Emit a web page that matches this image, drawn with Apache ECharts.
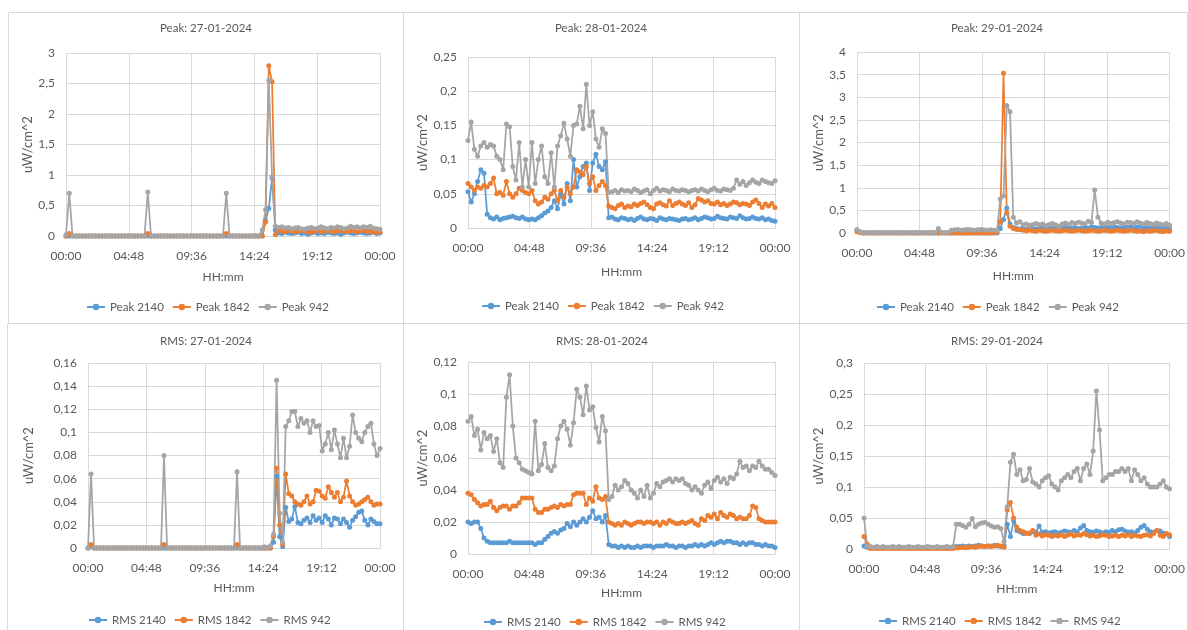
<!DOCTYPE html>
<html><head><meta charset="utf-8">
<script src="https://cdn.jsdelivr.net/npm/echarts@6/dist/echarts.min.js"></script>
<style>html,body{margin:0;padding:0;background:#fff}#c{width:1188px;height:630px}</style>
</head><body><div id="c"></div><script>
// time of day in minutes (x values)
const times = [
0,15,30,45,60,75,90,105,120,135,
150,165,180,195,210,225,240,255,270,285,
300,315,330,345,360,375,390,405,420,435,
450,465,480,495,510,525,540,555,570,585,
600,615,630,645,660,675,690,705,720,735,
750,765,780,795,810,825,840,855,870,885,
900,915,930,945,960,975,990,1005,1020,1035,
1050,1065,1080,1095,1110,1125,1140,1155,1170,1185,
1200,1215,1230,1245,1260,1275,1290,1305,1320,1335,
1350,1365,1380,1395,1410,1425,1440];

const xTickLabels = ['00:00','04:48','09:36','14:24','19:12','00:00'];

// ---- Peak 27-01-2024
const peak27_2140 = [
0,0,0,0,0,0,0,0,0,0,
0,0,0,0,0,0,0,0,0,0,
0,0,0,0,0,0,0,0,0,0,
0,0,0,0,0,0,0,0,0,0,
0,0,0,0,0,0,0,0,0,0,
0,0,0,0,0,0,0,0,0,0,
0,0.25,0.45,0.95,0.1,0.05,0.04,0.06,0.05,0.04,
0.05,0.06,0.04,0.05,0.03,0.05,0.06,0.04,0.05,0.04,
0.06,0.05,0.04,0.05,0.03,0.05,0.06,0.05,0.04,0.05,
0.06,0.05,0.04,0.05,0.06,0.04,0.05];
const peak27_1842 = [
0,0.04,0,0,0,0,0,0,0,0,
0,0,0,0,0,0,0,0,0,0,
0,0,0,0,0,0.04,0,0,0,0,
0,0,0,0,0,0,0,0,0,0,
0,0,0,0,0,0,0,0,0,0.04,
0,0,0,0,0,0,0,0,0,0,
0,0.23,2.79,2.53,0.02,0.09,0.08,0.07,0.09,0.08,
0.07,0.08,0.09,0.08,0.07,0.06,0.08,0.09,0.07,0.08,
0.09,0.08,0.07,0.08,0.09,0.08,0.07,0.09,0.08,0.07,
0.08,0.09,0.07,0.08,0.06,0.07,0.06];
const peak27_942 = [
0.02,0.7,0,0,0,0,0,0,0,0,
0,0,0,0,0,0,0,0,0,0,
0,0,0,0,0,0.72,0,0,0,0,
0,0,0,0,0,0,0,0,0,0,
0,0,0,0,0,0,0,0,0,0.7,
0,0,0,0,0,0,0,0,0,0,
0.1,0.43,2.55,0.97,0.16,0.14,0.15,0.13,0.14,0.12,
0.13,0.14,0.12,0.11,0.13,0.14,0.12,0.13,0.15,0.13,
0.12,0.14,0.13,0.15,0.14,0.12,0.13,0.16,0.14,0.15,
0.13,0.15,0.14,0.16,0.13,0.12,0.11];

// ---- Peak 28-01-2024
const peak28_2140 = [
0.053,0.038,0.05,0.068,0.085,0.08,0.02,0.015,0.013,0.016,
0.012,0.014,0.015,0.016,0.017,0.015,0.014,0.016,0.013,0.012,
0.013,0.012,0.015,0.018,0.022,0.025,0.03,0.04,0.028,0.05,
0.035,0.065,0.04,0.1,0.06,0.075,0.09,0.095,0.055,0.095,
0.108,0.09,0.085,0.097,0.015,0.016,0.013,0.012,0.015,0.014,
0.012,0.013,0.011,0.014,0.016,0.013,0.012,0.014,0.013,0.011,
0.015,0.013,0.012,0.014,0.013,0.012,0.011,0.013,0.014,0.012,
0.013,0.015,0.012,0.014,0.016,0.015,0.013,0.014,0.017,0.015,
0.014,0.013,0.016,0.015,0.014,0.018,0.015,0.013,0.014,0.016,
0.014,0.013,0.015,0.012,0.013,0.011,0.01];
const peak28_1842 = [
0.065,0.06,0.055,0.06,0.058,0.062,0.06,0.065,0.073,0.05,
0.052,0.048,0.068,0.05,0.045,0.05,0.058,0.055,0.052,0.05,
0.055,0.04,0.035,0.038,0.045,0.042,0.05,0.055,0.04,0.055,
0.045,0.06,0.05,0.06,0.085,0.082,0.078,0.09,0.065,0.075,
0.055,0.062,0.068,0.062,0.032,0.03,0.028,0.033,0.035,0.03,
0.032,0.031,0.035,0.033,0.036,0.038,0.034,0.03,0.028,0.035,
0.037,0.034,0.032,0.04,0.033,0.036,0.038,0.035,0.033,0.037,
0.03,0.034,0.043,0.041,0.038,0.04,0.036,0.035,0.038,0.034,
0.036,0.033,0.035,0.038,0.037,0.034,0.036,0.035,0.033,0.038,
0.041,0.036,0.03,0.035,0.032,0.036,0.03];
const peak28_942 = [
0.128,0.155,0.115,0.105,0.12,0.125,0.118,0.122,0.12,0.105,
0.1,0.085,0.152,0.148,0.09,0.07,0.125,0.06,0.1,0.06,
0.125,0.065,0.1,0.12,0.075,0.065,0.11,0.06,0.12,0.135,
0.153,0.13,0.105,0.15,0.152,0.178,0.145,0.21,0.15,0.17,
0.13,0.118,0.145,0.138,0.052,0.053,0.055,0.052,0.056,0.054,
0.055,0.053,0.057,0.055,0.052,0.054,0.056,0.05,0.055,0.058,
0.054,0.056,0.055,0.053,0.057,0.055,0.054,0.056,0.055,0.053,
0.055,0.056,0.054,0.057,0.055,0.053,0.056,0.058,0.055,0.054,
0.057,0.056,0.055,0.058,0.07,0.064,0.068,0.062,0.066,0.07,
0.067,0.065,0.07,0.068,0.066,0.065,0.069];

// ---- Peak 29-01-2024
const peak29_2140 = [
0.06,0.01,0,0,0,0,0,0,0,0,
0,0,0,0,0,0,0,0,0,0,
0,0,0,0,0,0,0,0,0,0,
0,0,0,0,0,0,0,0,0,0,
0,0,0,0,0.1,0.3,0.55,0.2,0.12,0.1,
0.09,0.1,0.08,0.11,0.1,0.09,0.1,0.12,0.1,0.11,
0.1,0.12,0.11,0.1,0.12,0.13,0.11,0.12,0.1,0.11,
0.12,0.11,0.13,0.12,0.11,0.12,0.13,0.12,0.11,0.13,
0.12,0.11,0.13,0.12,0.14,0.12,0.13,0.12,0.11,0.12,
0.1,0.11,0.12,0.1,0.11,0.1,0.09];
const peak29_1842 = [
0.03,0.005,0,0,0,0,0,0,0,0,
0,0,0,0,0,0,0,0,0,0,
0,0,0,0,0,0,0,0,0,0,
0,0,0,0,0,0,0,0,0,0,
0,0,0,0.02,0.25,3.53,0.45,0.15,0.1,0.08,
0.07,0.06,0.05,0.06,0.05,0.04,0.06,0.05,0.04,0.05,
0.06,0.05,0.04,0.05,0.06,0.05,0.04,0.05,0.06,0.05,
0.04,0.05,0.06,0.05,0.04,0.05,0.06,0.05,0.04,0.05,
0.06,0.05,0.04,0.05,0.06,0.05,0.04,0.05,0.03,0.05,
0.04,0.05,0.06,0.04,0.03,0.05,0.04];
const peak29_942 = [
0.08,0.03,0.01,0.01,0.01,0.01,0.01,0.01,0.01,0.01,
0.01,0.01,0.01,0.01,0.01,0.01,0.01,0.01,0.01,0.01,
0.01,0.01,0.01,0.01,0.01,0.1,0.01,0.01,0.01,0.06,
0.07,0.08,0.06,0.07,0.08,0.07,0.06,0.07,0.08,0.07,
0.06,0.07,0.06,0.06,0.75,0.82,2.82,2.68,0.35,0.22,
0.25,0.18,0.2,0.17,0.19,0.21,0.18,0.2,0.16,0.19,
0.21,0.18,0.15,0.2,0.22,0.19,0.23,0.21,0.24,0.22,
0.2,0.26,0.23,0.95,0.35,0.22,0.2,0.24,0.21,0.23,
0.25,0.22,0.2,0.24,0.23,0.21,0.25,0.22,0.2,0.23,
0.21,0.19,0.22,0.2,0.18,0.21,0.17];

// ---- RMS 27-01-2024
const rms27_2140 = [
0,0.001,0,0,0,0,0,0,0,0,
0,0,0,0,0,0,0,0,0,0,
0,0,0,0,0,0,0,0,0,0,
0,0,0,0,0,0,0,0,0,0,
0,0,0,0,0,0,0,0,0,0,
0,0,0,0,0,0,0,0,0,0,
0,0.005,0.062,0.01,0.001,0.035,0.023,0.025,0.036,0.022,
0.021,0.024,0.026,0.022,0.028,0.024,0.026,0.022,0.028,0.025,
0.02,0.026,0.025,0.021,0.025,0.022,0.018,0.024,0.027,0.031,
0.032,0.024,0.02,0.025,0.023,0.021,0.021];
const rms27_1842 = [
0,0.003,0,0,0,0,0,0,0,0,
0,0,0,0,0,0,0,0,0,0,
0,0,0,0,0,0.003,0,0,0,0,
0,0,0,0,0,0,0,0,0,0,
0,0,0,0,0,0,0,0,0,0.003,
0,0,0,0,0,0,0,0,0,0,
0,0.01,0.069,0.02,0.003,0.064,0.047,0.045,0.04,0.038,
0.037,0.04,0.045,0.038,0.04,0.05,0.049,0.045,0.043,0.053,
0.048,0.044,0.048,0.04,0.044,0.058,0.045,0.04,0.037,0.038,
0.04,0.042,0.044,0.04,0.037,0.038,0.038];
const rms27_942 = [
0,0.064,0,0,0,0,0,0,0,0,
0,0,0,0,0,0,0,0,0,0,
0,0,0,0,0,0.08,0,0,0,0,
0,0,0,0,0,0,0,0,0,0,
0,0,0,0,0,0,0,0,0,0.066,
0,0,0,0,0,0,0,0,0.001,0,
0.002,0.012,0.145,0.03,0.005,0.105,0.11,0.118,0.118,0.105,
0.112,0.108,0.11,0.1,0.11,0.105,0.106,0.084,0.09,0.1,
0.085,0.102,0.09,0.078,0.095,0.078,0.088,0.115,0.1,0.095,
0.092,0.1,0.105,0.108,0.09,0.08,0.086];

// ---- RMS 28-01-2024
const rms28_2140 = [
0.02,0.019,0.02,0.02,0.016,0.01,0.008,0.007,0.007,0.007,
0.007,0.007,0.007,0.008,0.007,0.007,0.007,0.007,0.007,0.007,
0.007,0.006,0.007,0.007,0.009,0.011,0.013,0.014,0.013,0.015,
0.016,0.019,0.017,0.02,0.018,0.02,0.022,0.02,0.023,0.027,
0.022,0.023,0.02,0.024,0.006,0.005,0.005,0.004,0.005,0.004,
0.005,0.004,0.004,0.005,0.004,0.005,0.005,0.005,0.004,0.005,
0.005,0.005,0.006,0.005,0.005,0.004,0.005,0.005,0.004,0.005,
0.005,0.006,0.005,0.006,0.005,0.006,0.007,0.006,0.007,0.008,
0.007,0.008,0.008,0.007,0.007,0.006,0.007,0.006,0.007,0.007,
0.006,0.006,0.005,0.006,0.005,0.005,0.004];
const rms28_1842 = [
0.038,0.037,0.034,0.032,0.03,0.031,0.031,0.033,0.029,0.027,
0.029,0.03,0.03,0.028,0.03,0.03,0.032,0.035,0.035,0.035,
0.035,0.028,0.026,0.026,0.028,0.028,0.029,0.03,0.029,0.031,
0.03,0.031,0.031,0.037,0.038,0.038,0.038,0.031,0.035,0.033,
0.042,0.035,0.034,0.036,0.02,0.019,0.018,0.019,0.018,0.02,
0.019,0.018,0.019,0.02,0.02,0.019,0.02,0.02,0.019,0.02,
0.018,0.02,0.019,0.021,0.02,0.019,0.019,0.02,0.019,0.02,
0.021,0.019,0.018,0.022,0.021,0.024,0.023,0.025,0.022,0.026,
0.024,0.023,0.025,0.024,0.022,0.023,0.022,0.022,0.024,0.03,
0.029,0.022,0.021,0.02,0.02,0.02,0.02];
const rms28_942 = [
0.083,0.086,0.074,0.078,0.065,0.076,0.072,0.074,0.064,0.072,
0.057,0.054,0.098,0.112,0.08,0.06,0.057,0.053,0.052,0.051,
0.05,0.083,0.052,0.056,0.069,0.054,0.052,0.055,0.072,0.08,
0.083,0.078,0.068,0.082,0.103,0.098,0.087,0.105,0.09,0.092,
0.079,0.07,0.086,0.077,0.034,0.036,0.043,0.04,0.042,0.046,
0.044,0.04,0.038,0.035,0.04,0.036,0.043,0.035,0.038,0.044,
0.042,0.045,0.046,0.047,0.045,0.047,0.046,0.047,0.044,0.043,
0.04,0.042,0.04,0.038,0.043,0.045,0.041,0.046,0.048,0.045,
0.047,0.044,0.048,0.047,0.05,0.058,0.054,0.055,0.052,0.055,
0.054,0.058,0.055,0.053,0.053,0.051,0.049];

// ---- RMS 29-01-2024
const rms29_2140 = [
0.005,0.003,0.002,0.002,0.002,0.002,0.002,0.002,0.002,0.002,
0.002,0.002,0.002,0.002,0.002,0.002,0.002,0.002,0.002,0.002,
0.002,0.002,0.002,0.002,0.002,0.002,0.002,0.002,0.002,0.004,
0.004,0.005,0.004,0.005,0.004,0.005,0.006,0.005,0.004,0.005,
0.005,0.006,0.005,0.004,0.005,0.04,0.02,0.045,0.03,0.028,
0.025,0.026,0.025,0.028,0.027,0.037,0.027,0.028,0.026,0.027,
0.028,0.026,0.027,0.029,0.028,0.027,0.03,0.028,0.034,0.038,
0.03,0.028,0.027,0.029,0.028,0.026,0.028,0.027,0.03,0.028,
0.031,0.032,0.029,0.027,0.028,0.026,0.03,0.035,0.038,0.032,
0.028,0.027,0.03,0.029,0.026,0.024,0.02];
const rms29_1842 = [
0.02,0.008,0.001,0.001,0.001,0.001,0.001,0.001,0.001,0.001,
0.001,0.001,0.001,0.001,0.001,0.001,0.001,0.001,0.001,0.001,
0.001,0.001,0.001,0.001,0.001,0.001,0.001,0.001,0.001,0.002,
0.002,0.003,0.002,0.003,0.004,0.003,0.004,0.005,0.004,0.005,
0.004,0.005,0.006,0.005,0.003,0.063,0.075,0.05,0.035,0.03,
0.028,0.025,0.026,0.03,0.022,0.024,0.021,0.023,0.022,0.02,
0.022,0.021,0.023,0.02,0.022,0.024,0.021,0.023,0.022,0.025,
0.023,0.021,0.022,0.02,0.021,0.023,0.022,0.02,0.021,0.022,
0.02,0.022,0.021,0.023,0.02,0.022,0.021,0.02,0.022,0.023,
0.021,0.025,0.03,0.022,0.02,0.025,0.023];
const rms29_942 = [
0.05,0.005,0.004,0.003,0.004,0.003,0.004,0.003,0.003,0.004,
0.003,0.004,0.003,0.003,0.004,0.003,0.003,0.004,0.003,0.003,
0.004,0.003,0.003,0.004,0.003,0.003,0.004,0.003,0.004,0.04,
0.04,0.038,0.035,0.04,0.049,0.036,0.04,0.042,0.043,0.04,
0.037,0.035,0.036,0.033,0.012,0.068,0.14,0.153,0.12,0.128,
0.11,0.112,0.13,0.108,0.105,0.1,0.11,0.115,0.118,0.105,
0.1,0.095,0.11,0.115,0.12,0.115,0.125,0.13,0.11,0.13,
0.137,0.12,0.158,0.255,0.192,0.11,0.115,0.12,0.12,0.125,
0.125,0.13,0.125,0.13,0.11,0.128,0.12,0.11,0.115,0.105,
0.1,0.1,0.1,0.105,0.11,0.1,0.097];

const panelTitles = ['Peak: 27-01-2024','Peak: 28-01-2024','Peak: 29-01-2024','RMS: 27-01-2024','RMS: 28-01-2024','RMS: 29-01-2024'];
const peakNames = ['Peak 2140','Peak 1842','Peak 942'];
const rmsNames = ['RMS 2140','RMS 1842','RMS 942'];
const panelNames = [peakNames, peakNames, peakNames, rmsNames, rmsNames, rmsNames];
const panelData = [
  [peak27_2140, peak27_1842, peak27_942],
  [peak28_2140, peak28_1842, peak28_942],
  [peak29_2140, peak29_1842, peak29_942],
  [rms27_2140, rms27_1842, rms27_942],
  [rms28_2140, rms28_1842, rms28_942],
  [rms29_2140, rms29_1842, rms29_942]
];
const yMax = [3, 0.25, 4, 0.16, 0.12, 0.3];
const yStep = [0.5, 0.05, 0.5, 0.02, 0.02, 0.05];
const yName = 'uW/cm^2';
const xName = 'HH:mm';

// layout (pixels)
const layout = [
  {g:[66,53,314,183], tx:206, ty:17, lx:81, ly:296, yGap:30, xGap:35},
  {g:[468,57,307,171], tx:601, ty:17, lx:476, ly:295, yGap:35, xGap:38},
  {g:[857,52,314,181], tx:997, ty:17, lx:871, ly:296, yGap:27, xGap:37},
  {g:[88,363,292,185], tx:206, ty:330, lx:83, ly:609, yGap:53, xGap:34},
  {g:[468,362,307,192], tx:602, ty:330, lx:478, ly:611, yGap:34, xGap:33},
  {g:[864,363,307,186], tx:997, ty:330, lx:873, ly:610, yGap:34, xGap:34}
];
const colors = ['#5B9BD5','#ED7D31','#A5A5A5'];
const txt = '#595959';
const gridCol = '#D9D9D9';
const FONT = 'Lato, "Noto Sans", sans-serif';

function fmtTime(v){ return xTickLabels[Math.round(v/288)]; }
function fmtNum(v){ return String(Number(v.toFixed(4))).replace('.', ','); }

const option = {animation:false, backgroundColor:'#fff', textStyle:{fontFamily:FONT},
  title:[], grid:[], xAxis:[], yAxis:[], legend:[], series:[],
  graphic:[
    {type:'rect', shape:{x:8.5,y:12.5,width:395,height:311}, style:{fill:'none',stroke:gridCol,lineWidth:1}, silent:true},
    {type:'rect', shape:{x:403.5,y:12.5,width:396,height:311}, style:{fill:'none',stroke:gridCol,lineWidth:1}, silent:true},
    {type:'rect', shape:{x:799.5,y:12.5,width:388,height:311}, style:{fill:'none',stroke:gridCol,lineWidth:1}, silent:true},
    {type:'rect', shape:{x:7.5,y:323.5,width:396,height:320}, style:{fill:'none',stroke:gridCol,lineWidth:1}, silent:true},
    {type:'rect', shape:{x:403.5,y:323.5,width:396,height:320}, style:{fill:'none',stroke:gridCol,lineWidth:1}, silent:true},
    {type:'rect', shape:{x:799.5,y:323.5,width:388,height:320}, style:{fill:'none',stroke:gridCol,lineWidth:1}, silent:true}
  ]};

for (let p = 0; p < 6; p++) {
  const L = layout[p];
  option.title.push({text:panelTitles[p], left:L.tx-5, top:L.ty, textAlign:'center',
    textStyle:{fontFamily:FONT, fontSize:11.5, fontWeight:'normal', color:txt}});
  option.grid.push({left:L.g[0], top:L.g[1], width:L.g[2], height:L.g[3], containLabel:false});
  option.xAxis.push({type:'value', gridIndex:p, min:0, max:1440, interval:288,
    name:xName, nameLocation:'middle', nameGap:L.xGap,
    nameTextStyle:{fontFamily:FONT, fontSize:12, color:txt},
    axisLine:{show:true, lineStyle:{color:gridCol, width:1}}, axisTick:{show:false},
    axisLabel:{formatter:fmtTime, color:txt, fontFamily:FONT, fontSize:12, margin:14},
    splitLine:{show:true, lineStyle:{color:gridCol, width:1}}});
  option.yAxis.push({type:'value', gridIndex:p, min:0, max:yMax[p], interval:yStep[p],
    name:yName, nameLocation:'middle', nameGap:L.yGap, nameRotate:90,
    nameTextStyle:{fontFamily:FONT, fontSize:13, color:txt},
    axisLine:{show:false}, axisTick:{show:false},
    axisLabel:{formatter:fmtNum, color:txt, fontFamily:FONT, fontSize:12, margin:11},
    splitLine:{show:true, lineStyle:{color:gridCol, width:1}}});
  option.legend.push({data:panelNames[p], left:L.lx, top:L.ly, itemWidth:18, itemHeight:8, itemGap:8,
    selectedMode:false, textStyle:{fontFamily:FONT, fontSize:11.5, color:txt}});
  for (let s = 0; s < 3; s++) {
    const vals = panelData[p][s];
    option.series.push({type:'line', name:panelNames[p][s], xAxisIndex:p, yAxisIndex:p,
      data: vals.map((v,i)=>[times[i], v]),
      symbol:'circle', symbolSize:5, showSymbol:true,
      lineStyle:{color:colors[s], width:1.75}, itemStyle:{color:colors[s]},
      emphasis:{disabled:true}});
  }
}
const chart = echarts.init(document.getElementById('c'), null, {renderer:'canvas'});
chart.setOption(option);
</script></body></html>
